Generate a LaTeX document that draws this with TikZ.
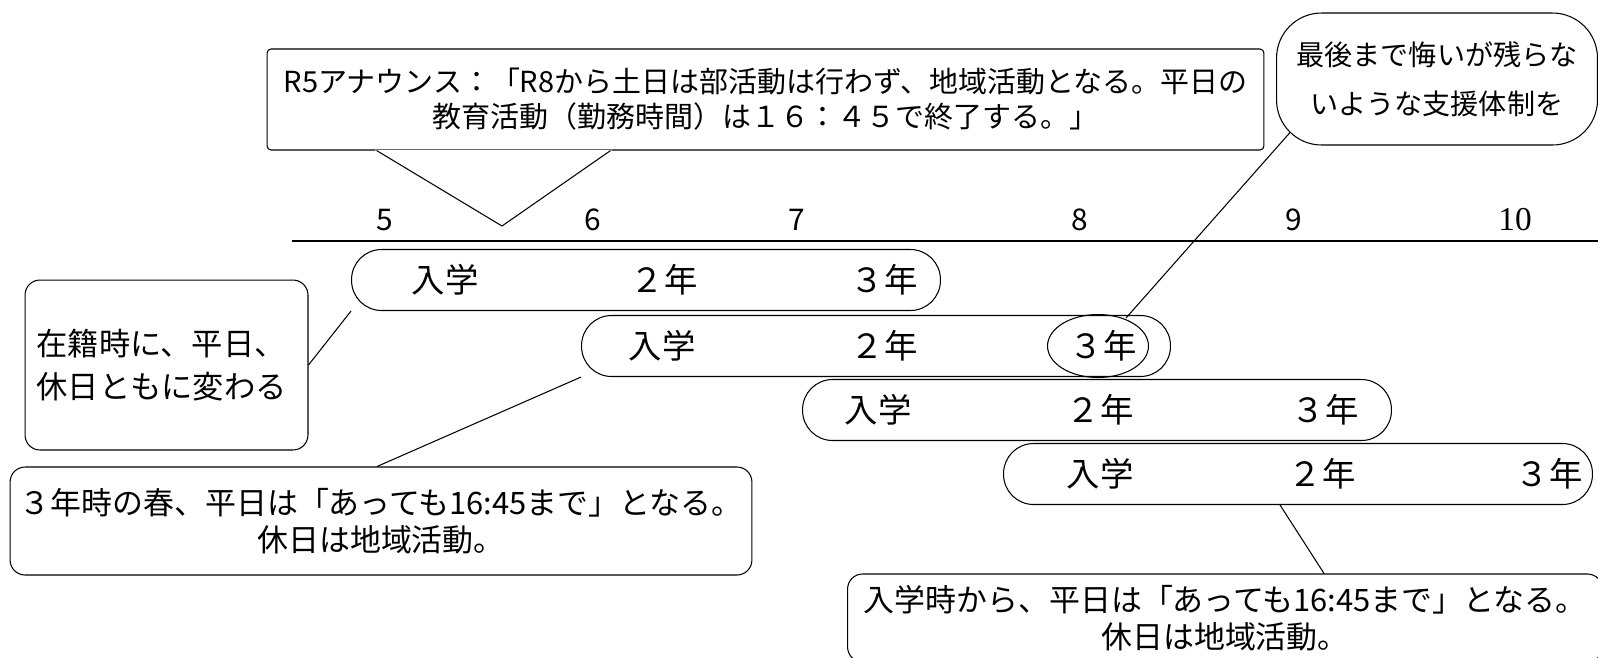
\documentclass[tikz,border=0pt]{standalone}
\usepackage{fontspec}
\newfontfamily\jp{Noto Sans CJK JP}
\newfontfamily\tnr{Liberation Serif}
\usetikzlibrary{calc,shapes.geometric}

\begin{document}
\begin{tikzpicture}[x=0.02cm,y=-0.02cm,line width=0.6pt,
  box/.style={draw,fill=white,rounded corners=0.3cm,inner sep=0pt,
    font=\jp\fontsize{17.6}{21}\selectfont},
  course/.style={draw,fill=white,rounded corners=0.6cm,inner sep=0pt,
    minimum width=11.78cm,minimum height=1.22cm},
  yr/.style={font=\jp\fontsize{19}{19}\selectfont},
  axnum/.style={font=\jp\fontsize{17}{17}\selectfont}]

  \useasboundingbox (0,0) rectangle (1598,657);

  % time axis
  \coordinate (axl) at (292,241);
  \coordinate (axr) at (1598,241);
  \draw (axl) -- (axr);
  \node[axnum] (m5) at (385,220) {5};
  \node[axnum] (m6) at (593,220) {6};
  \node[axnum] (m7) at (797,220) {7};
  \node[axnum] (m8) at (1080,220) {8};
  \node[axnum] (m9) at (1294,220) {9};
  \node[font=\tnr\fontsize{19}{19}\selectfont] (m10) at (1515,220) {10};

  % four school years
  \foreach \i/\cx/\cy/\a/\b/\c in {1/646/280/445/664/884, 2/876/346/662/884/1103,
      3/1097/410/878/1100/1325, 4/1298/474/1100/1322/1549} {
    \node[course] (p\i) at (\cx,\cy) {};
    \node[yr] (p\i a) at (\a,\cy) {入学};
    \node[yr] (p\i b) at (\b,\cy) {２年};
    \node[yr] (p\i c) at (\c,\cy) {３年};
  }
  \node[ellipse,draw,minimum width=2.02cm,minimum height=1.26cm] (hl) at (1098,346) {};

  % callouts
  \node[box,rounded corners=0.08cm,minimum width=19.94cm,minimum height=2.02cm,
    align=center,font=\jp\fontsize{16.5}{20}\selectfont] (ann) at (765.5,99.5)
    {R5アナウンス：「R8から土日は部活動は行わず、地域活動となる。平日の\\
     教育活動（勤務時間）は１６：４５で終了する。」};
  \coordinate (tip) at (502,226);
  \path[draw=white,fill=white] ($(ann.south west)+(110,0)$) -- (tip)
    -- ($(ann.south west)+(344,0)$) -- cycle;
  \draw ($(ann.south west)+(110,0)$) -- (tip) -- ($(ann.south west)+(344,0)$);

  \node[box,rounded corners=0.9cm,minimum width=6.42cm,minimum height=2.64cm,
    align=center,font=\jp\fontsize{16}{28}\selectfont] (wish) at (1437,79)
    {最後まで悔いが残らな\\いような支援体制を};
  \draw ($(wish.south west)+(14,-13)$) -- ($(hl.north)+(28,4)$);

  \node[box,minimum width=5.66cm,minimum height=3.4cm,text width=5.2cm,
    align=left,font=\jp\fontsize{17.8}{24}\selectfont] (now) at (166.5,365)
    {在籍時に、平日、\\休日ともに変わる};
  \draw (now.east) -- (p1.south west);

  \node[box,minimum width=14.84cm,minimum height=2.16cm,align=center] (third) at (381,521)
    {３年時の春、平日は「あっても16:45まで」となる。\\休日は地域活動。};
  \draw ($(third.north)+(-4,0)$) -- (p2.south west);

  \node[box,minimum width=15.1cm,minimum height=1.76cm,align=center] (first) at (1225,618)
    {入学時から、平日は「あっても16:45まで」となる。\\休日は地域活動。};
  \draw ($(p4.south west)+(277,0)$) -- ($(first.north west)+(477,0)$);

\end{tikzpicture}
\end{document}
